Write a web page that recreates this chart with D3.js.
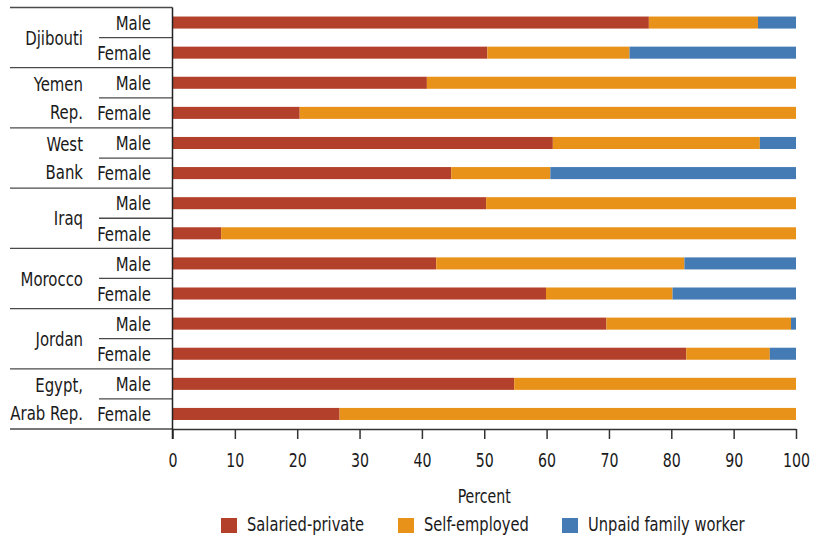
<!DOCTYPE html>
<html>
<head>
<meta charset="utf-8">
<script src="https://cdn.jsdelivr.net/npm/d3@7"></script>
<style>
  html, body { margin: 0; padding: 0; background: #fff; }
  svg { display: block; }
  text { font-family: "Liberation Sans Narrow", "DejaVu Sans Condensed", "Roboto Condensed", sans-serif; fill: #1a1a1a; }
</style>
</head>
<body>
<svg id="chart" width="820" height="540"></svg>
<script>
// ---- Data ----
const countries = ["Djibouti", "Yemen Rep.", "West Bank", "Iraq", "Morocco", "Jordan", "Egypt, Arab Rep."];
const countryLabelLines = [["Djibouti"], ["Yemen", "Rep."], ["West", "Bank"], ["Iraq"], ["Morocco"], ["Jordan"], ["Egypt,", "Arab Rep."]];
const genders = ["Male", "Female"];
const seriesNames = ["Salaried-private", "Self-employed", "Unpaid family worker"];
// rows: country x gender, in order (Male, Female)
const salariedPrivate = [76.4, 50.5, 40.8, 20.4, 61.0, 44.7, 50.3, 7.8, 42.3, 59.9, 69.6, 82.4, 54.8, 26.8];
const selfEmployed    = [17.5, 22.8, 59.2, 79.6, 33.2, 15.9, 49.7, 92.2, 39.8, 20.3, 29.6, 13.4, 45.2, 73.2];
const unpaidFamily    = [6.1, 26.7, 0, 0, 5.8, 39.4, 0, 0, 17.9, 19.8, 0.8, 4.2, 0, 0];
const xTicks = [0, 10, 20, 30, 40, 50, 60, 70, 80, 90, 100];
const xTitle = "Percent";
const colors = ["#b3402b", "#e8921a", "#447bb5"];

// ---- Build table ----
const rows = [];
countries.forEach((c, ci) => genders.forEach((g, gi) => {
  const i = ci * 2 + gi;
  rows.push({ id: c + "|" + g, country: c, gender: g,
    "Salaried-private": salariedPrivate[i], "Self-employed": selfEmployed[i], "Unpaid family worker": unpaidFamily[i] });
}));

const SX = 0.83; // horizontal condensing to mimic a condensed face
const svg = d3.select("#chart");
const x = d3.scaleLinear().domain([0, 100]).range([172.5, 796]);
const y = d3.scaleBand().domain(rows.map(d => d.id)).range([7.5, 429]).paddingInner(0.6).paddingOuter(0.3);
const step = y.step();
const color = d3.scaleOrdinal().domain(seriesNames).range(colors);

const stacked = d3.stack().keys(seriesNames)(rows);

svg.append("g").selectAll("g").data(stacked).join("g")
  .attr("fill", d => color(d.key))
  .selectAll("rect").data(d => d).join("rect")
  .attr("x", d => x(d[0]))
  .attr("y", d => y(d.data.id))
  .attr("width", d => Math.max(0, x(d[1]) - x(d[0])))
  .attr("height", y.bandwidth());

// Left separator lines
const sep = svg.append("g").attr("stroke", "#4a4a4a").attr("stroke-width", 1.3);
const rowTop = id => y(id) - step * y.paddingInner() / 2;
countries.forEach((c) => {
  const top = rowTop(c + "|Male");
  sep.append("line").attr("x1", 10).attr("x2", 172.5).attr("y1", top).attr("y2", top);
  const mid = rowTop(c + "|Female");
  sep.append("line").attr("x1", 99).attr("x2", 172.5).attr("y1", mid).attr("y2", mid);
});
const bottom = rowTop(rows[rows.length - 1].id) + step;
sep.append("line").attr("x1", 10).attr("x2", 172.5).attr("y1", bottom).attr("y2", bottom);

function label(parent, tx, ty, str, size, anchor) {
  return parent.append("text")
    .attr("transform", `translate(${tx},${ty}) scale(${SX},1)`)
    .attr("dy", "0.36em")
    .attr("text-anchor", anchor || "end")
    .attr("font-size", size)
    .text(str);
}

// Gender labels
const gl = svg.append("g");
rows.forEach(d => label(gl, 151, y(d.id) + y.bandwidth() / 2, d.gender, 20));

// Country labels
const cl = svg.append("g");
countries.forEach((c, ci) => {
  const lines = countryLabelLines[ci];
  const yM = y(c + "|Male") + y.bandwidth() / 2;
  const yF = y(c + "|Female") + y.bandwidth() / 2;
  if (lines.length === 1) {
    label(cl, 83, (yM + yF) / 2, lines[0], 20);
  } else {
    label(cl, 83, yM + 1, lines[0], 20);
    label(cl, 83, yF - 1, lines[1], 20);
  }
});

// X axis
const xAxis = svg.append("g").attr("transform", "translate(0,429)")
  .call(d3.axisBottom(x).tickValues(xTicks).tickSize(10).tickPadding(15).tickSizeOuter(0));
xAxis.select(".domain").attr("stroke", "#333").attr("stroke-width", 1.5);
xAxis.selectAll(".tick line").attr("stroke", "#333").attr("stroke-width", 1.5);
xAxis.selectAll(".tick text").attr("font-size", 19).attr("fill", "#1a1a1a")
  .attr("font-family", "Liberation Sans Narrow, DejaVu Sans Condensed, sans-serif")
  .attr("transform", `scale(${SX},1)`);

// Vertical axis line
svg.append("line").attr("x1", 172.5).attr("x2", 172.5).attr("y1", 7.5).attr("y2", 439)
  .attr("stroke", "#222").attr("stroke-width", 1.5);

// X title
svg.append("text").attr("transform", `translate(${x(50)},503) scale(${SX},1)`)
  .attr("text-anchor", "middle").attr("font-size", 19).text(xTitle);

// Legend
const legendX = [221, 398, 562];
const legend = svg.append("g");
seriesNames.forEach((s, i) => {
  legend.append("rect").attr("x", legendX[i]).attr("y", 518).attr("width", 16).attr("height", 15)
    .attr("fill", color(s));
  legend.append("text").attr("transform", `translate(${legendX[i] + 26},531) scale(${SX + 0.03},1)`)
    .attr("font-size", 19).text(s);
});
</script>
</body>
</html>
